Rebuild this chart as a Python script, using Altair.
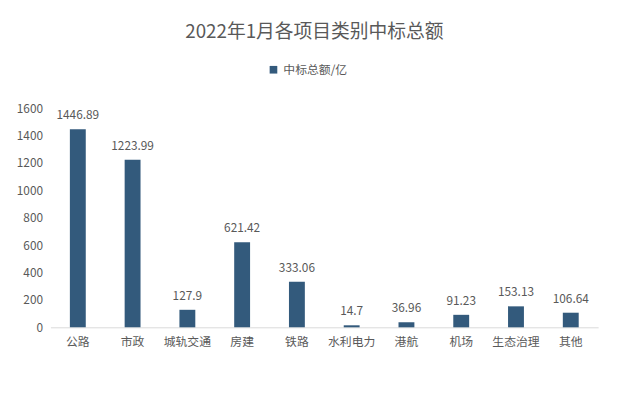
import altair as alt
import pandas as pd

categories = ["公路", "市政", "城轨交通", "房建", "铁路", "水利电力", "港航", "机场", "生态治理", "其他"]
values = [1446.89, 1223.99, 127.9, 621.42, 333.06, 14.7, 36.96, 91.23, 153.13, 106.64]
labels = ["1446.89", "1223.99", "127.9", "621.42", "333.06", "14.7", "36.96", "91.23", "153.13", "106.64"]
y_ticks = [0, 200, 400, 600, 800, 1000, 1200, 1400, 1600]
series_name = "中标总额/亿"

df = pd.DataFrame({"类别": categories, "值": values, "标签": labels, "系列": [series_name] * len(categories)})

FONT = "Noto Sans CJK SC"
GREY = "#595959"
BAR = "#335a7c"

x = alt.X("类别:N", sort=categories,
          scale=alt.Scale(paddingInner=0.71, paddingOuter=0.355),
          axis=alt.Axis(title=None, labelAngle=0, labelFontSize=12, labelColor=GREY,
                        labelFont=FONT, ticks=False, domainColor="#d9d9d9",
                        labelPadding=9))
y = alt.Y("值:Q", scale=alt.Scale(domain=[0, 1600]),
          axis=alt.Axis(title=None, values=y_ticks, tickCount=9, format="d", labelOverlap=False,
                        grid=False, domain=False, ticks=False, labelFontSize=12,
                        labelColor=GREY, labelFont=FONT, labelPadding=8))

bars = alt.Chart(df).mark_bar(color=BAR).encode(
    x=x, y=y,
    color=alt.Color("系列:N", scale=alt.Scale(range=[BAR]),
                    legend=alt.Legend(title=None, orient="none", legendX=220, legendY=-45,
                                      symbolType="square", symbolSize=60,
                                      labelFontSize=12, labelColor=GREY, labelFont=FONT))
)
text = alt.Chart(df).mark_text(baseline="bottom", dy=-7, fontSize=12, color=GREY, font=FONT).encode(
    x=x, y=y, text="标签:N"
)

chart = alt.layer(bars, text).properties(
    width=555, height=222,
    title=alt.TitleParams("2022年1月各项目类别中标总额", fontSize=19, color=GREY, font=FONT,
                          fontWeight="normal", offset=22, dx=-10),
    autosize=alt.AutoSizeParams(type="none"),
    padding={"left": 43, "top": 99, "right": 11, "bottom": 64},
).configure_view(stroke=None).configure_axis(labelOverlap=False)

chart.save("out.html", embed_options={"renderer": "svg", "actions": False})
